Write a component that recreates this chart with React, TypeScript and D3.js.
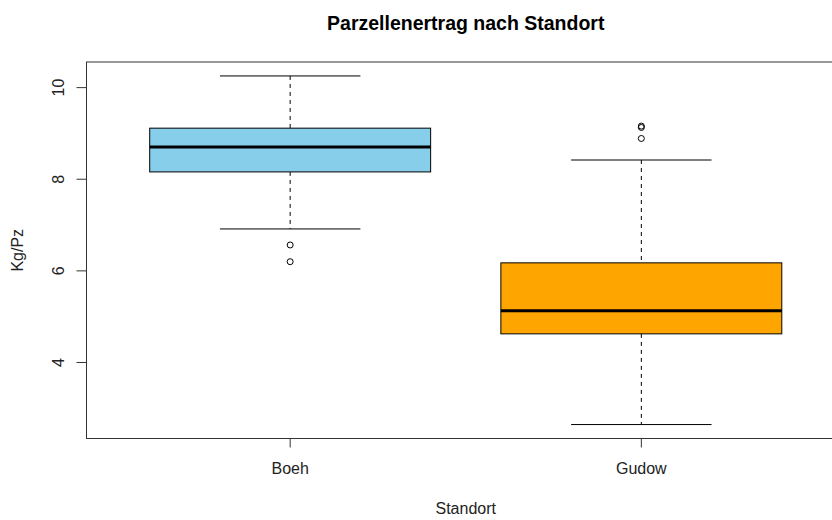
import React from "react";
import * as d3 from "d3";

// Yield per plot (kg) by location
const categories = ["Boeh", "Gudow"];
const lowerWhisker = [6.915, 2.645];
const q1 = [8.16, 4.625];
const median = [8.705, 5.13];
const q3 = [9.115, 6.175];
const upperWhisker = [10.255, 8.42];
const outliers: number[][] = [
  [6.565, 6.2],
  [9.16, 9.13, 8.89],
];
const fills = ["#87CEEB", "#FFA500"];
const yTicks = [4, 6, 8, 10];

const W = 832;
const H = 520;
const left = 86.5;
const right = 845;
const top = 62;
const bottom = 438.5;

export default function App() {
  const n = categories.length;
  // R-style axis extension: 4% on each side
  const lo = d3.min([...lowerWhisker, ...outliers.flat()]) as number;
  const hi = d3.max([...upperWhisker, ...outliers.flat()]) as number;
  const pad = (hi - lo) * 0.04;
  const y = d3.scaleLinear().domain([lo - pad, hi + pad]).range([bottom, top]);
  const xPad = n * 0.04;
  const x = d3
    .scaleLinear()
    .domain([0.5 - xPad, n + 0.5 + xPad])
    .range([left, right]);
  const boxW = x(0.8) - x(0);
  const font = "'Liberation Sans', Arial, sans-serif";

  return (
    <svg
      width={W}
      height={H}
      style={{ position: "absolute", left: 0, top: 0, background: "#fff" }}
      fontFamily={font}
    >
      <text
        x={(left + right) / 2}
        y={30}
        textAnchor="middle"
        fontWeight="bold"
        fontSize={19.5}
        fill="#000"
      >
        Parzellenertrag nach Standort
      </text>

      {categories.map((c, i) => {
        const cx = x(i + 1);
        const x0 = cx - boxW / 2;
        const capW = boxW / 2;
        return (
          <g key={c}>
            {/* whiskers */}
            <line x1={cx} x2={cx} y1={y(upperWhisker[i])} y2={y(q3[i])} stroke="#000" strokeDasharray="4,4" />
            <line x1={cx} x2={cx} y1={y(q1[i])} y2={y(lowerWhisker[i])} stroke="#000" strokeDasharray="4,4" />
            <line x1={cx - capW / 2} x2={cx + capW / 2} y1={y(upperWhisker[i])} y2={y(upperWhisker[i])} stroke="#000" />
            <line x1={cx - capW / 2} x2={cx + capW / 2} y1={y(lowerWhisker[i])} y2={y(lowerWhisker[i])} stroke="#000" />
            {/* box */}
            <rect
              x={x0}
              y={y(q3[i])}
              width={boxW}
              height={y(q1[i]) - y(q3[i])}
              fill={fills[i]}
              stroke="#000"
            />
            <line x1={x0} x2={x0 + boxW} y1={y(median[i])} y2={y(median[i])} stroke="#000" strokeWidth={3} />
            {outliers[i].map((v, j) => (
              <circle key={j} cx={cx} cy={y(v)} r={3} fill="none" stroke="#000" />
            ))}
            {/* x tick + label */}
            <line x1={cx} x2={cx} y1={bottom} y2={bottom + 9} stroke="#333" />
            <text x={cx} y={474} textAnchor="middle" fontSize={16} fill="#222">
              {c}
            </text>
          </g>
        );
      })}

      {/* plot frame */}
      <rect x={left} y={top} width={right - left} height={bottom - top} fill="none" stroke="#333" />

      {/* y axis */}
      {yTicks.map((t) => (
        <g key={t}>
          <line x1={left - 10} x2={left} y1={y(t)} y2={y(t)} stroke="#333" />
          <text
            transform={`translate(${64},${y(t)}) rotate(-90)`}
            textAnchor="middle"
            fontSize={16}
            fill="#222"
          >
            {t}
          </text>
        </g>
      ))}

      <text
        transform={`translate(${23},${(top + bottom) / 2}) rotate(-90)`}
        textAnchor="middle"
        fontSize={16}
        fill="#222"
      >
        Kg/Pz
      </text>
      <text x={(left + right) / 2} y={514} textAnchor="middle" fontSize={16} fill="#222">
        Standort
      </text>
    </svg>
  );
}
